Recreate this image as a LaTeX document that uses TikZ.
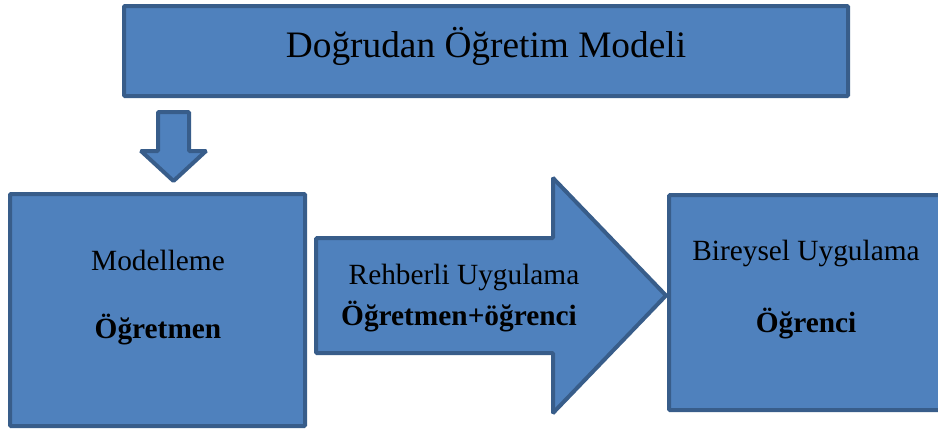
\documentclass[tikz,border=0pt]{standalone}
\usepackage{fontspec}
\setmainfont{Liberation Serif}

\tikzset{every picture/.style={line width=0.75pt}}
\tikzset{blueshape/.style={draw={rgb, 255:red, 56; green, 93; blue, 138}, fill={rgb, 255:red, 79; green, 129; blue, 189}, line width=3pt, rounded corners=0.8pt}}
\tikzset{bodytext/.style={inner sep=0.75pt, font=\fontsize{22}{26}\selectfont}}

\begin{document}
\begin{tikzpicture}[x=0.75pt,y=0.75pt,yscale=-1,xscale=1]
			\useasboundingbox (0,0) rectangle (938,430);

			%Shape: Rectangle [id:title box]
			\draw [blueshape]  (124,6) -- (848,6) -- (848,96) -- (124,96) -- cycle ;
			%Shape: Down Arrow [id:down arrow]
			\draw [blueshape]  (158,112) -- (189,112) -- (189,151) -- (206,151) -- (173.5,181) -- (141,151) -- (158,151) -- cycle ;
			%Shape: Rectangle [id:left box]
			\draw [blueshape]  (10,194) -- (305,194) -- (305,426) -- (10,426) -- cycle ;
			%Shape: Right Arrow [id:middle arrow]
			\draw [blueshape]  (316,238) -- (553,238) -- (553,178) -- (666,295.5) -- (553,413) -- (553,353) -- (316,353) -- cycle ;
			%Shape: Rectangle [id:right box]
			\draw [blueshape]  (669,195) -- (942,195) -- (942,410) -- (669,410) -- cycle ;

			% Text Node
			\draw (486,46) node [inner sep=0.75pt, font=\fontsize{28}{32}\selectfont] (title)  {Doğrudan Öğretim Modeli};
			% Text Node
			\draw (158,260) node [bodytext] (modelleme)  {Modelleme};
			% Text Node
			\draw (158,330) node [bodytext] (ogretmen)  {\textbf{Öğretmen}};
			% Text Node
			\draw (464,277) node [bodytext] (rehberli)  {Rehberli Uygulama};
			% Text Node
			\draw (459,317) node [bodytext] (ogretmenogrenci)  {\textbf{Öğretmen+öğrenci}};
			% Text Node
			\draw (806,253) node [bodytext] (bireysel)  {Bireysel Uygulama};
			% Text Node
			\draw (806,324) node [bodytext] (ogrenci)  {\textbf{Öğrenci}};

\end{tikzpicture}
\end{document}
